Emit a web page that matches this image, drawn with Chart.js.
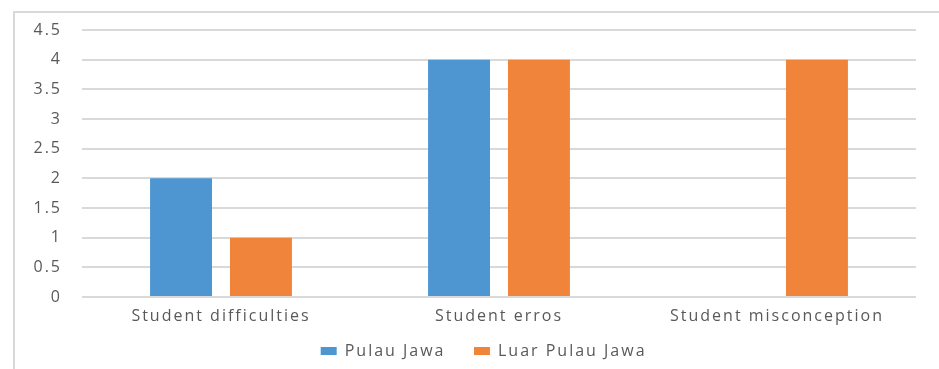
<!DOCTYPE html>
<html>
<head>
<meta charset="utf-8">
<script src="https://cdn.jsdelivr.net/npm/chart.js@4"></script>
<style>
  html, body { margin: 0; padding: 0; background: #fff; }
  #wrap { position: relative; width: 939px; height: 369px; overflow: hidden; }
  #frame { position: absolute; left: 13px; top: 11px; width: 960px; height: 400px;
           border-left: 2px solid #d9d9d9; border-top: 2px solid #d9d9d9; }
  canvas { position: absolute; left: 0; top: 0; }
</style>
</head>
<body>
<div id="wrap">
  <div id="frame"></div>
  <canvas id="chart" width="939" height="369"></canvas>
</div>
<script>
var categories = ['Student difficulties', 'Student erros', 'Student misconception'];
var series_names = ['Pulau Jawa', 'Luar Pulau Jawa'];
var pulau_jawa = [2, 4, 0];
var luar_pulau_jawa = [1, 4, 4];
var y_min = 0;
var y_max = 4.5;
var y_step = 0.5;

var text_color = '#595959';
var grid_color = '#d9d9d9';
var font = { family: "'Open Sans', sans-serif", size: 16 };

// the source picture is stretched sideways, so widen the text a bit
var spacing_plugin = {
  id: 'spacing',
  beforeUpdate: function(chart) { chart.ctx.letterSpacing = '2px'; },
  beforeDraw: function(chart) { chart.ctx.letterSpacing = '2px'; },
};

var config_bar = {
  type: 'bar',
  data: {
    labels: categories,
    datasets: [
      {
        label: series_names[0],
        data: pulau_jawa,
        backgroundColor: '#4e96d2', // blue
      },
      {
        label: series_names[1],
        data: luar_pulau_jawa,
        backgroundColor: '#f1843b', // orange
      }
    ],
  },
  options: {
    responsive: false,
    animation: false,
    layout: {
      padding: { left: 0, right: 23, top: 30, bottom: 0 },
    },
    datasets: {
      bar: {
        categoryPercentage: 0.575,
        barPercentage: 0.775,
      },
    },
    scales: {
      x: {
        grid: { display: false, drawTicks: false },
        border: { display: false },
        afterFit: function(scale) { scale.height = 36; },
        ticks: { color: text_color, font: font, padding: 10 },
      },
      y: {
        min: y_min,
        max: y_max,
        afterFit: function(scale) { scale.width = 82; },
        grid: { color: grid_color, lineWidth: 2, drawTicks: false },
        border: { display: false },
        ticks: {
          stepSize: y_step,
          color: text_color,
          font: font,
          padding: 20,
          callback: function(value) { return String(value); },
        },
      },
    },
    plugins: {
      legend: {
        position: 'bottom',
        fullSize: false,
        labels: {
          color: text_color,
          font: font,
          boxWidth: 16,
          boxHeight: 8,
          padding: 10,
          generateLabels: function(chart) {
            var items = Chart.defaults.plugins.legend.labels.generateLabels(chart);
            items.forEach(function(item, i) {
              item.text = item.text + (i < items.length - 1 ? '   ' : '     ');
            });
            return items;
          },
        },
      },
      tooltip: { enabled: false },
    },
  },
  plugins: [spacing_plugin],
};

var chart_bar = new Chart(document.getElementById('chart'), config_bar);
</script>
</body>
</html>
